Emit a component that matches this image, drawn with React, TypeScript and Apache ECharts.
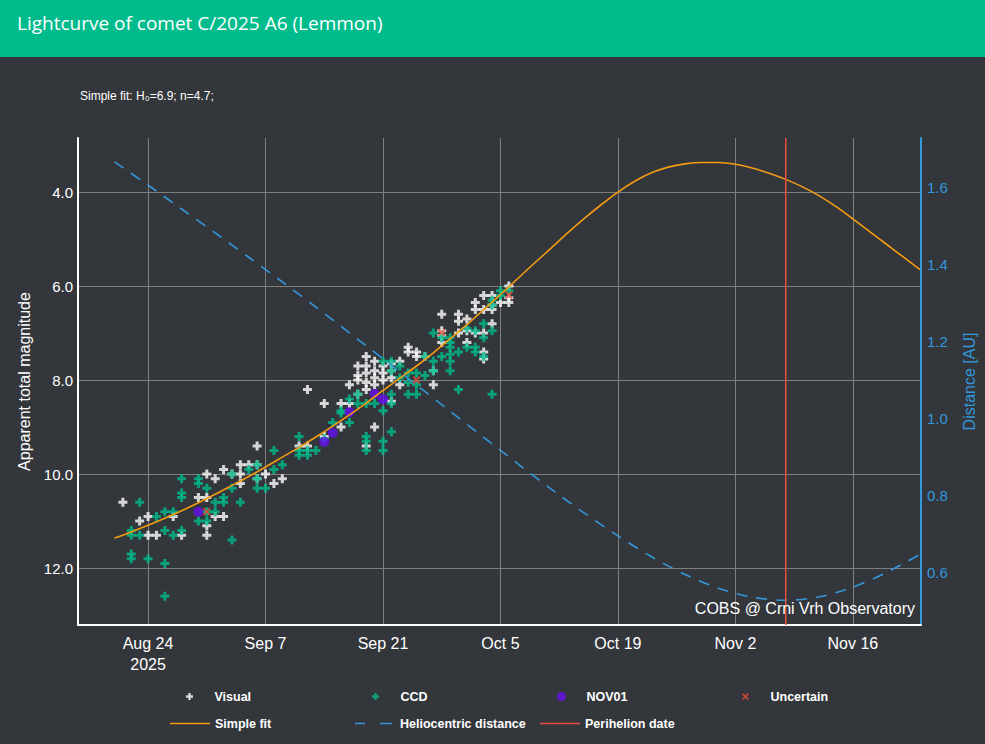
import React, { useEffect, useRef } from 'react';
import * as echarts from 'echarts';

const TITLE = 'Lightcurve of comet C/2025 A6 (Lemmon)';
const FIT_NOTE = 'Simple fit: H₀=6.9; n=4.7;';
const CREDIT = 'COBS @ Crni Vrh Observatory';
const MAG_NAME = 'Apparent total magnitude';
const DIST_NAME = 'Distance [AU]';

const dateTicks = ['08-24', '09-07', '09-21', '10-05', '10-19', '11-02', '11-16'];
const magTicks = [4, 6, 8, 10, 12];
const distTicks = [0.6, 0.8, 1.0, 1.2, 1.4, 1.6];

const visual: [string, number][] = [
  ['08-21', 10.6], ['08-23', 11.0], ['08-24', 10.9], ['08-24', 11.3], ['08-25', 11.3], ['08-27', 10.9],
  ['08-28', 11.3], ['08-30', 10.5], ['08-31', 10.0], ['08-31', 10.5], ['08-31', 11.1], ['08-31', 11.3],
  ['09-01', 10.9], ['09-01', 10.1], ['09-02', 10.9], ['09-02', 9.9], ['09-03', 10.0], ['09-04', 9.8],
  ['09-04', 10.0], ['09-04', 10.2], ['09-05', 9.8], ['09-06', 9.4], ['09-06', 10.1], ['09-06', 9.8],
  ['09-07', 10.0], ['09-08', 10.2], ['09-09', 10.1], ['09-11', 9.4], ['09-12', 9.4], ['09-12', 8.2],
  ['09-14', 8.5], ['09-14', 9.2], ['09-16', 8.5], ['09-16', 9.0], ['09-17', 8.5], ['09-17', 8.1],
  ['09-18', 7.7], ['09-18', 7.9], ['09-18', 8.0], ['09-18', 8.3], ['09-19', 7.5], ['09-19', 7.7],
  ['09-19', 7.85], ['09-19', 8.05], ['09-19', 8.2], ['09-19', 9.4], ['09-20', 7.6], ['09-20', 7.8],
  ['09-20', 7.95], ['09-20', 8.1], ['09-20', 9.0], ['09-21', 7.7], ['09-21', 7.85], ['09-21', 8.0],
  ['09-22', 7.65], ['09-22', 7.8], ['09-22', 7.95], ['09-22', 8.45], ['09-23', 7.6], ['09-23', 8.1],
  ['09-24', 7.3], ['09-24', 7.4], ['09-25', 7.4], ['09-25', 7.5], ['09-26', 7.5], ['09-27', 7.8],
  ['09-27', 8.1], ['09-28', 6.6], ['09-28', 6.95], ['09-28', 7.05], ['09-28', 7.2], ['09-30', 6.6],
  ['09-30', 6.75], ['09-30', 7.0], ['10-01', 6.7], ['10-01', 6.95], ['10-01', 7.2], ['10-02', 6.35],
  ['10-02', 6.5], ['10-02', 7.0], ['10-03', 6.2], ['10-03', 6.5], ['10-03', 7.0], ['10-03', 7.4],
  ['10-03', 7.55], ['10-04', 6.2], ['10-04', 6.4], ['10-04', 6.5], ['10-04', 6.8], ['10-05', 6.35],
  ['10-06', 6.0], ['10-06', 6.25], ['10-06', 6.35],
];

const ccd: [string, number][] = [
  ['08-22', 11.2], ['08-22', 11.3], ['08-22', 11.7], ['08-22', 11.8], ['08-23', 10.6], ['08-23', 11.3],
  ['08-24', 11.8], ['08-25', 10.9], ['08-26', 10.8], ['08-26', 11.2], ['08-26', 11.9], ['08-26', 12.6],
  ['08-27', 10.8], ['08-27', 11.3], ['08-28', 10.1], ['08-28', 10.4], ['08-28', 10.5], ['08-28', 11.2],
  ['08-30', 10.1], ['08-30', 10.2], ['08-30', 11.0], ['08-31', 10.3], ['08-31', 10.8], ['08-31', 11.0],
  ['09-01', 10.6], ['09-01', 10.8], ['09-02', 10.5], ['09-02', 10.6], ['09-03', 10.0], ['09-03', 10.3],
  ['09-03', 11.4], ['09-04', 10.6], ['09-05', 9.9], ['09-06', 9.8], ['09-06', 10.1], ['09-06', 10.3],
  ['09-07', 10.3], ['09-08', 9.5], ['09-08', 9.9], ['09-09', 9.8], ['09-11', 9.2], ['09-11', 9.5],
  ['09-11', 9.6], ['09-12', 9.5], ['09-12', 9.6], ['09-13', 9.5], ['09-14', 9.25], ['09-15', 8.9],
  ['09-16', 8.7], ['09-16', 8.65], ['09-17', 8.9], ['09-17', 8.4], ['09-18', 8.3], ['09-18', 8.5],
  ['09-19', 8.5], ['09-19', 9.2], ['09-19', 9.3], ['09-19', 9.5], ['09-20', 8.5], ['09-21', 7.6],
  ['09-21', 8.65], ['09-21', 9.3], ['09-21', 9.5], ['09-22', 7.6], ['09-22', 7.8], ['09-22', 8.3],
  ['09-22', 8.5], ['09-22', 9.1], ['09-23', 7.95], ['09-23', 7.7], ['09-24', 7.85], ['09-24', 8.05],
  ['09-24', 8.3], ['09-25', 7.85], ['09-25', 8.1], ['09-25', 8.3], ['09-26', 7.5], ['09-26', 7.9],
  ['09-27', 7.0], ['09-27', 7.6], ['09-27', 7.8], ['09-28', 7.1], ['09-28', 7.5], ['09-29', 7.1],
  ['09-29', 7.2], ['09-29', 7.3], ['09-29', 7.45], ['09-29', 7.6], ['09-29', 7.8], ['09-30', 7.4],
  ['09-30', 8.2], ['10-01', 6.9], ['10-01', 7.3], ['10-02', 6.95], ['10-02', 7.3], ['10-02', 7.4],
  ['10-03', 6.8], ['10-03', 7.1], ['10-03', 7.5], ['10-04', 6.3], ['10-04', 6.4], ['10-04', 6.95],
  ['10-04', 8.3], ['10-05', 6.1], ['10-05', 6.2], ['10-06', 6.1],
];

const nov01: [string, number][] = [
  ['08-30', 10.8], ['09-14', 9.31], ['09-15', 9.12], ['09-17', 8.68], ['09-20', 8.29], ['09-21', 8.41],
];

const uncertain: [string, number][] = [
  ['08-31', 10.8], ['09-25', 8.0], ['09-28', 6.99], ['10-06', 6.19],
];

const fitDates = [
  '08-20', '08-22', '08-24', '08-26', '08-28', '08-30', '09-01', '09-03', '09-05', '09-07', '09-09',
  '09-11', '09-13', '09-15', '09-17', '09-19', '09-21', '09-23', '09-25', '09-27', '09-29', '10-01',
  '10-03', '10-05', '10-07', '10-09', '10-11', '10-13', '10-15', '10-17', '10-19', '10-21', '10-23',
  '10-25', '10-27', '10-29', '10-31', '11-02', '11-04', '11-06', '11-08', '11-10', '11-12', '11-14',
  '11-16', '11-18', '11-20', '11-22', '11-24',
];
const fitMags = [
  11.36, 11.23, 11.09, 10.94, 10.78, 10.61, 10.43, 10.24, 10.05, 9.85, 9.64,
  9.43, 9.21, 8.98, 8.74, 8.49, 8.22, 7.96, 7.70, 7.42, 7.12, 6.82,
  6.50, 6.18, 5.85, 5.52, 5.20, 4.87, 4.56, 4.27, 4.00, 3.77, 3.59,
  3.47, 3.40, 3.37, 3.37, 3.41, 3.49, 3.60, 3.73, 3.89, 4.08, 4.31,
  4.57, 4.84, 5.11, 5.38, 5.65,
];

const distDates = [
  '08-20', '08-24', '08-28', '09-01', '09-05', '09-09', '09-13', '09-17', '09-21', '09-25', '09-29',
  '10-03', '10-07', '10-11', '10-15', '10-19', '10-23', '10-27', '10-31', '11-04', '11-08', '11-12',
  '11-16', '11-20', '11-24',
];
const distValues = [
  1.665, 1.605, 1.543, 1.481, 1.418, 1.354, 1.289, 1.222, 1.155, 1.087, 1.019,
  0.951, 0.884, 0.818, 0.755, 0.696, 0.642, 0.596, 0.560, 0.537, 0.529, 0.538,
  0.563, 0.601, 0.648,
];

const perihelionDate = '11-08';

const BASE = Date.UTC(2025, 7, 24);
const DAY = 86400000;
const MONTHS = ['Jan', 'Feb', 'Mar', 'Apr', 'May', 'Jun', 'Jul', 'Aug', 'Sep', 'Oct', 'Nov', 'Dec'];
const toDay = (md: string) => {
  const [m, d] = md.split('-').map(Number);
  return (Date.UTC(2025, m - 1, d) - BASE) / DAY;
};

const X_MIN = -8.35;
const X_MAX = 92.12;
const MAG_MIN = 2.85;
const MAG_MAX = 13.21;
const DIST_MIN = 0.465;
const DIST_MAX = 1.727;

const BG = '#33363b';
const GREEN = '#00bc8c';
const GRID = '#7f7f7f';
const BLUE = '#3498db';
const ORANGE = '#f39c12';
const RED = '#e74c3c';
const PURPLE = '#6610f2';
const FONT = '"Liberation Sans", Arial, sans-serif';

const PLUS = 'path://M3,0H6V3H9V6H6V9H3V6H0V3H3Z';
const CROSS = 'path://M0,1.4L1.4,0L4,2.6L6.6,0L8,1.4L5.4,4L8,6.6L6.6,8L4,5.4L1.4,8L0,6.6L2.6,4Z';
const LINE_ICON = 'path://M0,0H40V1.6H0Z';
const DASH_ICON = 'path://M0,0H10V1.6H0Z M25,0H37V1.6H25Z M39.9,0.7H40V0.9H39.9Z';

const pts = (arr: [string, number][]) => arr.map(([md, v]) => [toDay(md), v]);

export default function App() {
  const ref = useRef<HTMLDivElement>(null);
  useEffect(() => {
    if (!ref.current) return;
    const chart = echarts.init(ref.current, undefined, { renderer: 'svg' });
    const tickDays = dateTicks.map(toDay);
    const legendText = { color: '#ffffff', fontSize: 12.5, fontWeight: 'bold' as const, fontFamily: FONT };
    const mkLegend = (item: any, left: number, top: number, ih: number) => ({
      data: [item], left, top, itemWidth: 40, itemHeight: ih, padding: 0, selectedMode: false,
      textStyle: legendText,
    });
    const option: any = {
      animation: false,
      backgroundColor: BG,
      graphic: [
        { type: 'rect', left: 0, top: 0, shape: { width: 985, height: 57 }, style: { fill: GREEN }, silent: true },
        { type: 'text', left: 17, top: 13, style: { text: TITLE, fill: '#ffffff', fontSize: 19, fontFamily: '"Open Sans", sans-serif' } },
        { type: 'text', left: 80, top: 90, style: { text: FIT_NOTE, fill: '#ffffff', fontSize: 12, fontFamily: FONT } },
        { type: 'text', right: 70, top: 600, z: 100, style: { text: CREDIT, fill: '#ffffff', fontSize: 16, fontFamily: FONT } },
      ],
      legend: [
        mkLegend('Visual', 186, 690, 7),
        mkLegend('CCD', 372, 690, 7),
        mkLegend('NOV01', 557, 690, 9),
        mkLegend('Uncertain', 742, 690, 7),
        mkLegend({ name: 'Simple fit', icon: LINE_ICON }, 170, 717, 14),
        mkLegend({ name: 'Heliocentric distance', icon: DASH_ICON }, 355, 717, 14),
        mkLegend({ name: 'Perihelion date', icon: LINE_ICON }, 540, 717, 14),
      ],
      grid: { left: 78, right: 64, top: 138, bottom: 119, containLabel: false },
      xAxis: {
        type: 'value', min: X_MIN, max: X_MAX,
        axisLine: { show: true, onZero: false, lineStyle: { color: '#ffffff', width: 2 } },
        axisTick: { show: false, customValues: tickDays },
        axisLabel: {
          customValues: tickDays, color: '#ffffff', fontSize: 16, lineHeight: 21, margin: 8, fontFamily: FONT,
          formatter: (v: number) => {
            const dt = new Date(BASE + Math.round(v) * DAY);
            const s = `${MONTHS[dt.getUTCMonth()]} ${dt.getUTCDate()}`;
            return Math.round(v) === tickDays[0] ? `${s}\n${dt.getUTCFullYear()}` : s;
          },
        },
        splitLine: { show: true, lineStyle: { color: GRID, width: 1 } },
      },
      yAxis: [
        {
          type: 'value', inverse: true, min: MAG_MIN, max: MAG_MAX, position: 'left',
          name: MAG_NAME, nameLocation: 'middle', nameGap: 44, nameRotate: 90,
          nameTextStyle: { color: '#ffffff', fontSize: 16, fontFamily: FONT },
          axisLine: { show: true, onZero: false, lineStyle: { color: '#ffffff', width: 2 } },
          axisTick: { show: false, customValues: magTicks },
          axisLabel: { customValues: magTicks, color: '#ffffff', fontSize: 15, margin: 5, fontFamily: FONT, formatter: (v: number) => v.toFixed(1) },
          splitLine: { show: true, lineStyle: { color: GRID, width: 1 } },
        },
        {
          type: 'value', min: DIST_MIN, max: DIST_MAX, position: 'right',
          name: DIST_NAME, nameLocation: 'middle', nameGap: 40, nameRotate: 90,
          nameTextStyle: { color: BLUE, fontSize: 16, fontFamily: FONT },
          axisLine: { show: true, onZero: false, lineStyle: { color: BLUE, width: 2 } },
          axisTick: { show: false, customValues: distTicks },
          axisLabel: { customValues: distTicks, color: BLUE, fontSize: 15, margin: 6, fontFamily: FONT, formatter: (v: number) => v.toFixed(1) },
          splitLine: { show: false },
        },
      ],
      series: [
        { name: 'Visual', type: 'scatter', symbol: PLUS, symbolSize: 9, itemStyle: { color: '#ffffff' }, data: pts(visual), z: 2 },
        { name: 'CCD', type: 'scatter', symbol: PLUS, symbolSize: 9, itemStyle: { color: GREEN }, data: pts(ccd), z: 3 },
        { name: 'NOV01', type: 'scatter', symbol: 'circle', symbolSize: 10, itemStyle: { color: PURPLE }, data: pts(nov01), z: 4 },
        { name: 'Uncertain', type: 'scatter', symbol: CROSS, symbolSize: 8, itemStyle: { color: RED }, data: pts(uncertain), z: 5 },
        {
          name: 'Simple fit', type: 'line', symbol: 'none', smooth: 0.3, z: 6,
          lineStyle: { color: ORANGE, width: 1.6 }, itemStyle: { color: ORANGE },
          data: fitDates.map((d, i) => [toDay(d), fitMags[i]]),
        },
        {
          name: 'Heliocentric distance', type: 'line', yAxisIndex: 1, symbol: 'none', smooth: 0.3, z: 6,
          lineStyle: { color: BLUE, width: 1.6, type: [11, 9] }, itemStyle: { color: BLUE },
          data: distDates.map((d, i) => [toDay(d), distValues[i]]),
        },
        {
          name: 'Perihelion date', type: 'line', symbol: 'none', z: 6,
          lineStyle: { color: RED, width: 1.5 }, itemStyle: { color: RED },
          data: [[toDay(perihelionDate), MAG_MIN], [toDay(perihelionDate), MAG_MAX]],
        },
      ],
    };
    chart.setOption(option);
    return () => chart.dispose();
  }, []);
  return (
    <div
      ref={ref}
      style={{ position: 'absolute', left: 0, top: 0, width: 985, height: 744, overflow: 'hidden' }}
    />
  );
}
